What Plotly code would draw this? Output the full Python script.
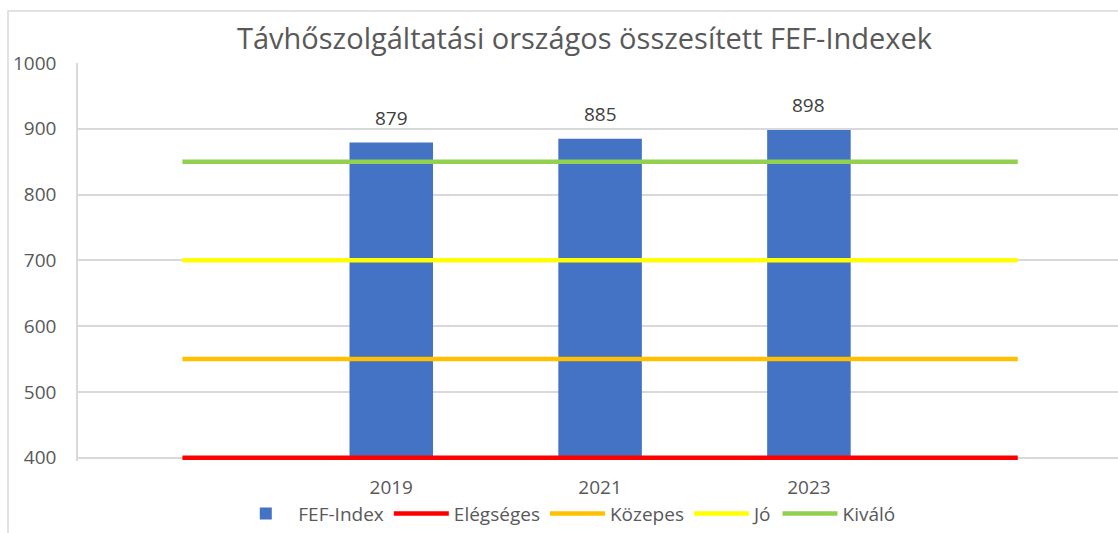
import plotly.graph_objects as go

years = ["2019", "2021", "2023"]
fef_values = [879, 885, 898]
threshold_names = ["Elégséges", "Közepes", "Jó", "Kiváló"]
threshold_values = [400, 550, 700, 850]
threshold_colors = ["#FF0000", "#FFC000", "#FFFF00", "#92D050"]
y_ticks = [400, 500, 600, 700, 800, 900, 1000]

FONT = "Open Sans"
GRAY = "#595959"
AXIS_MIN = 400

bar_x = [1, 2, 3]
line_x = [0, 1, 2, 3, 4]

# pixel layout
TOP = 63
BOTTOM_MARGIN = 71.7
PLOT_H = 533 - TOP - BOTTOM_MARGIN
PLOT_BOTTOM = 533 - BOTTOM_MARGIN


def py(pix):
    return (PLOT_BOTTOM - pix) / PLOT_H


fig = go.Figure()
fig.add_trace(go.Bar(
    x=bar_x, y=[v - AXIS_MIN for v in fef_values], base=AXIS_MIN,
    name="FEF-Index", marker_color="#4472C4", width=0.4, marker_line_width=0,
    customdata=fef_values, hovertemplate="%{customdata}<extra>FEF-Index</extra>",
))
for name, val, col in zip(threshold_names, threshold_values, threshold_colors):
    fig.add_trace(go.Scatter(
        x=line_x, y=[val] * len(line_x), mode="lines", name=name,
        line=dict(color=col, width=4.5),
    ))

for x, v in zip(bar_x, fef_values):
    fig.add_annotation(x=x, y=v, text=str(v), showarrow=False, yshift=25,
                       font=dict(family=FONT, size=19, color="#404040"))

fig.add_annotation(xref="paper", yref="paper", x=0.4875, y=py(37), yanchor="middle",
                   text="Távhőszolgáltatási országos összesített FEF-Indexek",
                   showarrow=False, font=dict(family=FONT, size=29, color=GRAY))

fig.add_shape(type="rect", xref="paper", yref="paper",
              x0=-0.0673, x1=1.2, y0=-0.5, y1=py(11),
              line=dict(color="#D9D9D9", width=1.5), layer="below")

fig.update_layout(
    width=1118, height=533,
    margin=dict(l=78, r=0, t=TOP, b=BOTTOM_MARGIN),
    paper_bgcolor="white", plot_bgcolor="white",
    font=dict(family=FONT, color=GRAY, size=19),
    showlegend=True,
    legend=dict(orientation="h", x=0.47, xanchor="center", y=py(514), yanchor="middle",
                font=dict(family=FONT, size=19, color=GRAY), itemwidth=55,
                tracegroupgap=0, bgcolor="rgba(0,0,0,0)"),
    xaxis=dict(range=[-0.5, 4.48], tickvals=bar_x, ticktext=years, showgrid=False,
               zeroline=False, ticks="", ticklabelstandoff=13,
               tickfont=dict(size=19, color=GRAY)),
    yaxis=dict(range=[395, 1000], tickvals=y_ticks, showgrid=True, gridcolor="#D9D9D9",
               gridwidth=1.5, zeroline=False, showline=True, linecolor="#D9D9D9",
               linewidth=1.5, ticks="", ticklabelstandoff=16,
               tickfont=dict(size=19, color=GRAY)),
    bargap=0.6,
)

fig.write_html("out.html", config={"displayModeBar": False},
               post_script="document.body.style.margin='0';document.body.style.overflow='hidden';")
